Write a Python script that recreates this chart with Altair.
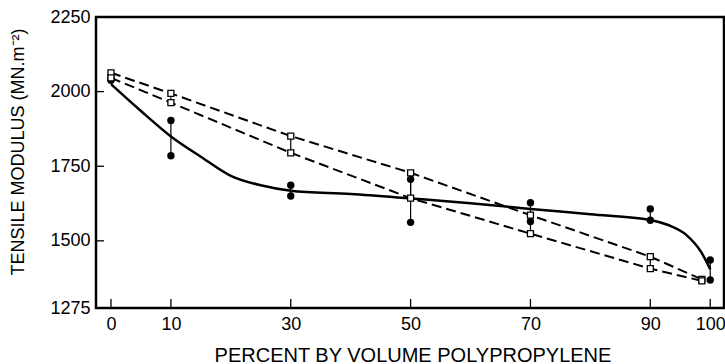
import altair as alt
import pandas as pd

# Composition (percent by volume polypropylene) at each measured blend
pct = [0, 10, 30, 50, 70, 90, 100]
# Measured tensile modulus, filled circles: upper and lower value of each pair
circle_hi = [2044, 1903, 1686, 1706, 1628, 1607, 1436]
circle_lo = [2038, 1785, 1650, 1562, 1565, 1569, 1369]

# Open squares: upper and lower value of each pair
square_pct = [0, 10, 30, 50, 70, 90, 98.6]
square_hi = [2063, 1994, 1851, 1728, 1586, 1447, 1371]
square_lo = [2046, 1963, 1795, 1643, 1524, 1407, 1366]

# Smooth curve drawn through the measured points
curve_pct = [0, 5, 10, 15, 20, 25, 30, 40, 50, 60, 70, 80, 90, 93, 96, 98.5, 100]
curve_mod = [2025, 1935, 1850, 1782, 1718, 1686, 1668, 1657, 1642, 1626, 1607,
             1589, 1570, 1553, 1520, 1462, 1405]

x_ticks = [0, 10, 30, 50, 70, 90, 100]
y_ticks = [1275, 1500, 1750, 2000, 2250]
y_inner_ticks = [1500, 1750, 2000]

W, H = 628, 291
FONT = "Liberation Sans"

circles = pd.DataFrame({"pct": pct, "hi": circle_hi, "lo": circle_lo})
circle_pts = pd.DataFrame({"pct": pct + pct, "mod": circle_hi + circle_lo})
squares = pd.DataFrame({"pct": square_pct, "hi": square_hi, "lo": square_lo})
square_pts = pd.DataFrame({"pct": square_pct + square_pct, "mod": square_hi + square_lo})
dashed = pd.DataFrame({
    "pct": square_pct + square_pct,
    "mod": square_hi + square_lo,
    "line": ["upper"] * len(square_pct) + ["lower"] * len(square_pct),
})
curve = pd.DataFrame({"pct": curve_pct, "mod": curve_mod})

x_scale = alt.Scale(domain=[-2.5, 102.3], nice=False, zero=False)
y_scale = alt.Scale(domain=[1275, 2250], nice=False, zero=False)

x_axis = alt.Axis(
    values=x_ticks, format="d", title="PERCENT BY VOLUME POLYPROPYLENE",
    domain=False, ticks=False, tickSize=0, grid=False, labelFont=FONT,
    labelFontSize=18, labelColor="black", labelPadding=7, labelFlush=False,
    titleFont=FONT, titleFontSize=20, titleFontWeight="normal",
    titleColor="black", titleX=316.5, titleY=53, titleAlign="center",
    titleBaseline="alphabetic",
)
y_axis = alt.Axis(
    values=y_ticks, format="d", title="TENSILE MODULUS (MN.m⁻²)",
    domain=False, ticks=False, tickSize=0, grid=False, labelFont=FONT,
    labelFontSize=18, labelColor="black", labelPadding=6, labelFlush=False,
    titleFont=FONT, titleFontSize=18, titleFontWeight="normal",
    titleColor="black", titleAngle=270, titleX=-73, titleY=134.5,
    titleAlign="center", titleBaseline="alphabetic",
)


def X(field="pct"):
    return alt.X(f"{field}:Q", scale=x_scale, axis=x_axis)


def Y(field="mod"):
    return alt.Y(f"{field}:Q", scale=y_scale, axis=y_axis)


dash_lines = alt.Chart(dashed).mark_line(
    color="black", strokeWidth=2, strokeDash=[10, 5]
).encode(x=X(), y=Y(), detail="line:N")

solid = alt.Chart(curve).mark_line(
    color="black", strokeWidth=2.5, interpolate="monotone"
).encode(x=X(), y=Y())

circle_bars = alt.Chart(circles).mark_rule(color="black", strokeWidth=1.2).encode(
    x=X(), y=Y("hi"), y2="lo:Q"
)
square_bars = alt.Chart(squares).mark_rule(color="black", strokeWidth=1.2).encode(
    x=X(), y=Y("hi"), y2="lo:Q"
)

square_marks = alt.Chart(square_pts).mark_point(
    shape="square", size=36, filled=False, fill="white", fillOpacity=1,
    stroke="black", strokeWidth=1.3, opacity=1
).encode(x=X(), y=Y())

circle_marks = alt.Chart(circle_pts).mark_circle(
    size=55, color="black", opacity=1
).encode(x=X(), y=Y())

# Inward-pointing tick marks along the frame
x_tick_marks = alt.Chart(pd.DataFrame({"t": x_ticks})).mark_rule(
    color="black", strokeWidth=1.3
).encode(x=X("t"), y=alt.value(H), y2=alt.value(H - 9))

y_tick_marks = alt.Chart(pd.DataFrame({"t": y_inner_ticks})).mark_rule(
    color="black", strokeWidth=1.3
).encode(y=Y("t"), x=alt.value(-1), x2=alt.value(8))

chart = alt.layer(
    dash_lines, solid, square_bars, circle_bars, circle_marks, square_marks,
    x_tick_marks, y_tick_marks,
).properties(
    width=W, height=H,
    autosize=alt.AutoSizeParams(type="none"),
    padding={"left": 96, "top": 17, "right": 1, "bottom": 56},
    background="white",
).configure_view(stroke="black", strokeWidth=2.5)

chart.save("out.html", embed_options={"renderer": "svg", "actions": False})
